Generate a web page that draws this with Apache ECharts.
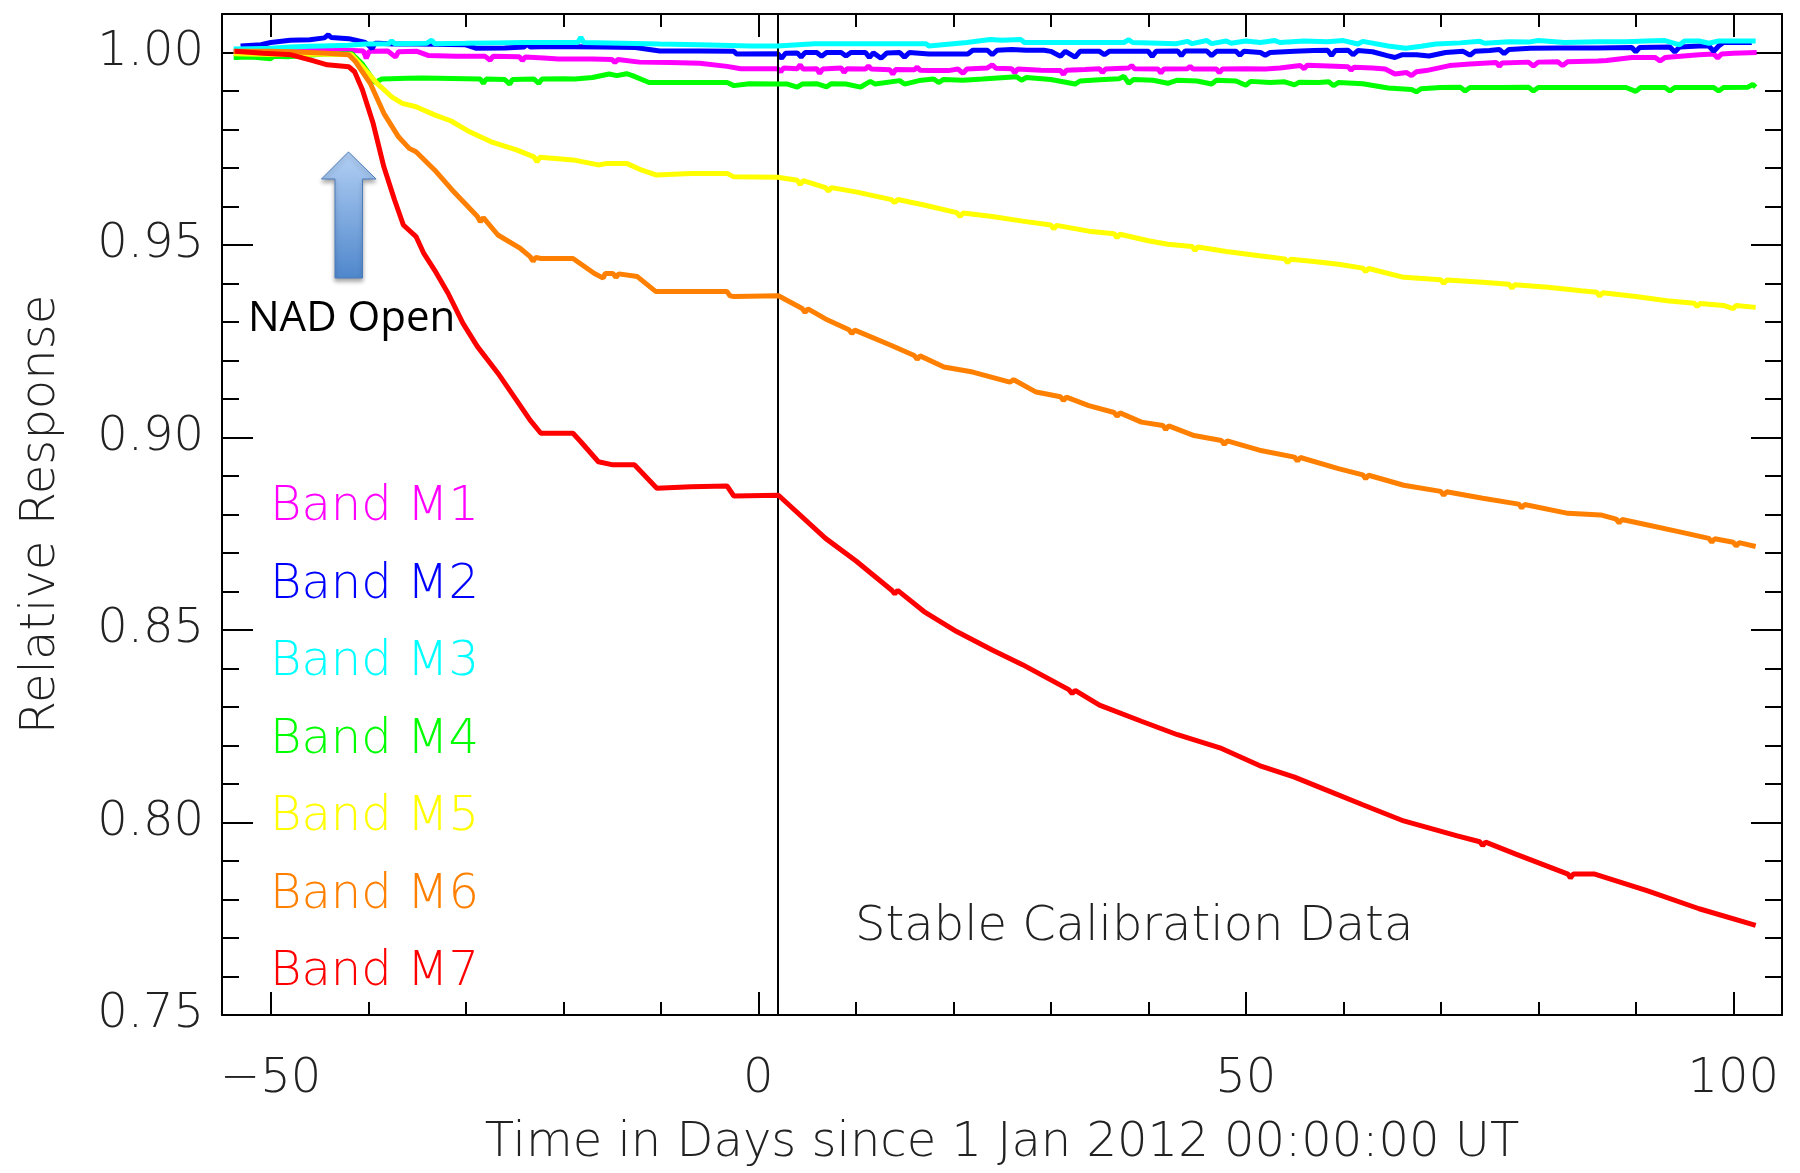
<!DOCTYPE html>
<html>
<head>
<meta charset="utf-8">
<script src="https://cdn.jsdelivr.net/npm/echarts@6/dist/echarts.min.js"></script>
<style>
html,body{margin:0;padding:0;background:#fff;}
#chart{width:1800px;height:1173px;}
</style>
</head>
<body>
<div id="chart"></div>
<script>
// ---------------- DATA ----------------
const bandNames = ['Band M1','Band M2','Band M3','Band M4','Band M5','Band M6','Band M7'];
const bandColors = ['#ff00ff','#0000ff','#00ffff','#00ff00','#ffff00','#ff8000','#ff0000'];

const xMajorTicks = [-50, 0, 50, 100];
const xMinorTicks = [-50,-40,-30,-20,-10,0,10,20,30,40,50,60,70,80,90,100];
const yMajorTicks = [0.75, 0.80, 0.85, 0.90, 0.95, 1.00];
const yMinorTicks = [0.76,0.77,0.78,0.79,0.81,0.82,0.83,0.84,0.86,0.87,0.88,0.89,0.91,0.92,0.93,0.94,0.96,0.97,0.98,0.99];
const xLine = 2; // boundary of stable calibration data

const m1 = [[-53.8,1.0003],[-51,1.0005],[-48,1.0008],[-46,1.0009],[-44,1.0008],[-42,1.0006],[-40.5,1.0004],[-40.2,0.9985],[-39.9,1.0003],[-38,1.0004],[-37.2,0.9988],[-36.9,1.0002],[-35,1.0003],[-33.8,0.9992],[-31,0.9990],[-28,0.9990],[-27.5,0.9980],[-27.2,0.9990],[-24.5,0.9989],[-24.2,0.9979],[-23.9,0.9988],[-22,0.9986],[-20.5,0.9983],[-17,0.9983],[-15,0.9982],[-14.7,0.9974],[-14.4,0.9982],[-12.2,0.9975],[-9,0.9974],[-6,0.9972],[-3.2,0.9964],[-1.8,0.9958],[2,0.9958],[2.3,0.9950],[2.6,0.9960],[4,0.9958],[4.3,0.9968],[4.6,0.9957],[6,0.9958],[6.3,0.9946],[6.6,0.9957],[8.5,0.9960],[8.8,0.9948],[9.1,0.9958],[11,0.9957],[11.3,0.9965],[11.6,0.9957],[13.5,0.9955],[13.8,0.9944],[14.1,0.9956],[16,0.9955],[16.3,0.9962],[16.6,0.9954],[17.5,0.9953],[19.5,0.9953],[20.5,0.9957],[21,0.9946],[21.4,0.9957],[23.5,0.9960],[24,0.9968],[24.4,0.9959],[26,0.9958],[26.3,0.9947],[26.6,0.9957],[29,0.9954],[31,0.9953],[31.3,0.9943],[31.6,0.9954],[33.5,0.9956],[35,0.9958],[35.3,0.9948],[35.6,0.9957],[38,0.9960],[38.3,0.9966],[38.6,0.9958],[41,0.9957],[41.3,0.9947],[41.6,0.9957],[44,0.9958],[44.3,0.9964],[44.6,0.9957],[47,0.9957],[47.3,0.9948],[47.6,0.9957],[50,0.9958],[52,0.9957],[53.5,0.9960],[55.6,0.9966],[56,0.9958],[56.3,0.9967],[58.5,0.9965],[60.5,0.9963],[60.8,0.9954],[61.1,0.9962],[63,0.9960],[64.3,0.9957],[65.3,0.9944],[66.5,0.9948],[67,0.9940],[67.5,0.9950],[68.5,0.9953],[70.9,0.9966],[73,0.9970],[75.7,0.9974],[76,0.9964],[76.3,0.9973],[79,0.9975],[79.5,0.9965],[80,0.9975],[82,0.9976],[82.5,0.9966],[83,0.9976],[86.1,0.9978],[87,0.9979],[89.6,0.9987],[92,0.9987],[92.5,0.9978],[93,0.9987],[96.5,0.9994],[98,0.9996],[98.4,0.9986],[98.8,0.9996],[100,0.9998],[102.4,1.0000]];

const m2 = [[-53.1,1.0017],[-51,1.0020],[-50,1.0026],[-48,1.0032],[-46,1.0033],[-44.5,1.0038],[-44.1,1.0046],[-43.8,1.0039],[-42,1.0036],[-41.3,1.0032],[-40.3,1.0026],[-39.6,1.0010],[-39.3,1.0024],[-38.9,1.0024],[-37.5,1.0022],[-35,1.0022],[-30,1.0020],[-28.9,1.0011],[-26,1.0012],[-24,1.0014],[-23.7,1.0024],[-23.4,1.0014],[-22.3,1.0015],[-19,1.0015],[-16,1.0014],[-12.6,1.0013],[-10.1,1.0004],[-6,1.0004],[-2.5,1.0003],[-2.2,0.9996],[2,0.9997],[2.4,0.9985],[2.8,0.9998],[4,0.9999],[4.4,0.9988],[4.8,1.0000],[6,1.0000],[6.5,0.9990],[7,1.0000],[8.5,1.0000],[9,0.9991],[9.5,1.0000],[11,1.0000],[11.4,0.9987],[11.8,0.9999],[12.6,0.9985],[13.2,0.9999],[14.5,1.0000],[15,0.9988],[15.5,1.0000],[17.5,0.9996],[21.5,0.9996],[22,1.0006],[23.5,1.0006],[24,0.9994],[24.5,1.0006],[26,1.0008],[27.5,1.0006],[29.3,1.0006],[30,1.0003],[31,0.9990],[31.5,1.0003],[32.5,0.9988],[33,1.0003],[35,1.0003],[35.5,0.9994],[36,1.0003],[38,1.0003],[40,1.0003],[40.4,0.9990],[40.8,1.0003],[43,1.0004],[43.4,0.9992],[43.8,1.0004],[46,1.0004],[46.5,0.9992],[47,1.0003],[49,1.0003],[49.4,0.9993],[49.8,1.0003],[51.5,1.0000],[52,0.9993],[52.5,1.0000],[55,1.0003],[57,1.0005],[58.4,1.0006],[58.8,0.9992],[59.2,1.0005],[60.5,1.0006],[61,0.9994],[61.5,1.0005],[63,1.0002],[64.5,0.9992],[65.3,0.9987],[66,0.9994],[67.5,0.9994],[68.8,0.9991],[70.5,1.0000],[72.3,1.0003],[73,0.9993],[73.5,1.0003],[75,1.0005],[76,1.0008],[76.5,0.9997],[77,1.0008],[79.2,1.0011],[82,1.0012],[86,1.0012],[89.6,1.0013],[90,1.0002],[90.4,1.0013],[93.5,1.0014],[94,1.0001],[94.5,1.0014],[96.5,1.0017],[97.5,1.0017],[98,1.0003],[98.5,1.0017],[99,1.0026],[101.9,1.0026]];

const m3 = [[-53.8,1.0009],[-52,1.0010],[-50,1.0011],[-48,1.0014],[-46,1.0016],[-44.8,1.0017],[-42,1.0019],[-40.3,1.0022],[-37.9,1.0023],[-37.6,1.0030],[-37.3,1.0023],[-34,1.0024],[-33.5,1.0032],[-33.2,1.0023],[-30,1.0024],[-27,1.0025],[-24,1.0026],[-18.5,1.0026],[-18.2,1.0040],[-17.9,1.0026],[-14,1.0024],[-10.1,1.0022],[-6,1.0020],[-0.8,1.0017],[2,1.0017],[5.8,1.0023],[8,1.0023],[12,1.0023],[17.2,1.0023],[17.5,1.0017],[21.4,1.0026],[23.8,1.0034],[25,1.0032],[26.9,1.0034],[27.3,1.0026],[32,1.0026],[36,1.0026],[37.5,1.0026],[38,1.0033],[38.4,1.0026],[42.9,1.0023],[44,1.0029],[44.5,1.0023],[46,1.0031],[46.5,1.0023],[48,1.0030],[48.5,1.0024],[50,1.0030],[51.5,1.0026],[53,1.0031],[53.5,1.0026],[56,1.0030],[58.4,1.0028],[60,1.0031],[61.5,1.0022],[62,1.0029],[64.6,1.0017],[66.4,1.0011],[68,1.0016],[69.5,1.0022],[72,1.0025],[74,1.0029],[74.5,1.0024],[77,1.0028],[79,1.0027],[80,1.0031],[82.7,1.0026],[86.1,1.0028],[89,1.0028],[91,1.0030],[93,1.0031],[94.5,1.0020],[95,1.0030],[96.5,1.0030],[97.5,1.0024],[98.5,1.0030],[102.3,1.0030]];

const m4 = [[-53.8,0.9987],[-52,0.9988],[-50,0.9984],[-49.7,0.9990],[-48.3,0.9989],[-46.5,0.9992],[-44.5,0.9996],[-41.7,0.9997],[-40.6,0.9970],[-39.3,0.9922],[-38.6,0.9931],[-36,0.9933],[-34.4,0.9934],[-30,0.9932],[-28.5,0.9931],[-28.2,0.9920],[-27.9,0.9931],[-26,0.9930],[-25.5,0.9918],[-25.2,0.9930],[-23,0.9931],[-22.5,0.9920],[-22.2,0.9931],[-20,0.9932],[-18.8,0.9931],[-17,0.9935],[-15.3,0.9944],[-14.5,0.9940],[-13.5,0.9945],[-12.9,0.9940],[-11.2,0.9922],[-8,0.9922],[-3.2,0.9922],[-2.5,0.9914],[-0.9,0.9919],[2,0.9918],[3,0.9918],[4,0.9910],[4.5,0.9918],[6,0.9919],[7,0.9911],[7.5,0.9919],[9,0.9918],[10.5,0.9910],[11,0.9918],[11.5,0.9925],[12,0.9918],[14.5,0.9927],[15,0.9918],[16.5,0.9927],[18,0.9931],[18.5,0.9922],[19,0.9930],[21,0.9928],[23,0.9931],[26.5,0.9937],[27,0.9928],[27.5,0.9935],[30,0.9930],[32.5,0.9918],[33,0.9926],[35,0.9929],[37,0.9932],[37.5,0.9938],[38,0.9920],[38.5,0.9930],[40.5,0.9928],[42,0.9920],[43,0.9928],[45,0.9926],[46.5,0.9918],[47,0.9928],[49,0.9926],[50,0.9915],[50.5,0.9925],[52.5,0.9922],[54,0.9924],[55,0.9916],[55.5,0.9923],[57.5,0.9922],[58.5,0.9924],[59,0.9914],[59.5,0.9922],[62,0.9919],[64.6,0.9908],[67,0.9904],[67.5,0.9898],[68,0.9906],[70,0.9909],[72,0.9910],[72.5,0.9900],[73,0.9909],[76,0.9909],[79,0.9910],[79.5,0.9900],[80,0.9909],[84,0.9909],[89,0.9909],[90,0.9899],[90.5,0.9909],[93,0.9909],[93.5,0.9900],[94,0.9909],[98,0.9909],[98.5,0.9900],[99,0.9909],[101.5,0.9910],[102,0.9917],[102.3,0.9910]];

const m5 = [[-53.8,0.9997],[-50,0.9995],[-47,0.9995],[-44.2,0.9996],[-41.7,0.9994],[-40.6,0.9963],[-39.1,0.9920],[-37.6,0.9885],[-36.5,0.9868],[-35.1,0.9859],[-33.2,0.9838],[-31.5,0.9822],[-29.6,0.9794],[-27.4,0.9768],[-24.8,0.9747],[-23.0,0.9729],[-22.7,0.9716],[-22.4,0.9728],[-19.0,0.9721],[-16.4,0.9708],[-15.5,0.9712],[-13.5,0.9712],[-12.0,0.9695],[-10.5,0.9682],[-6.9,0.9686],[-3.2,0.9686],[-2.5,0.9677],[2.0,0.9676],[4,0.9668],[4.3,0.9657],[4.6,0.9667],[6.9,0.9649],[7.2,0.9640],[7.5,0.9649],[10,0.9638],[13.66,0.9618],[14,0.9610],[14.3,0.9618],[17,0.9604],[20.35,0.9584],[20.7,0.9574],[21,0.9583],[24,0.9574],[27.1,0.9562],[30,0.9552],[30.3,0.9542],[30.6,0.9551],[33.9,0.9536],[36.5,0.9529],[36.8,0.9519],[37.1,0.9528],[40,0.9511],[42,0.9502],[44.5,0.9496],[44.8,0.9486],[45.1,0.9495],[48,0.9483],[51.4,0.9472],[54,0.9464],[54.3,0.9454],[54.6,0.9463],[57,0.9457],[59.5,0.9450],[62,0.9440],[62.3,0.9431],[62.6,0.9439],[66.2,0.9416],[70,0.9410],[70.3,0.9400],[70.6,0.9409],[74.3,0.9403],[77,0.9398],[77.3,0.9388],[77.6,0.9397],[81,0.9390],[84.4,0.9381],[86,0.9377],[86.3,0.9367],[86.6,0.9376],[90,0.9366],[93.2,0.9355],[96,0.9349],[96.3,0.9340],[96.6,0.9348],[99,0.9343],[100,0.9335],[100.3,0.9343],[102.3,0.9338]];

const m6 = [[-53.8,1.0003],[-50,1.0003],[-47.9,1.0002],[-44.2,0.9998],[-42.0,0.9994],[-41.3,0.9976],[-39.8,0.9920],[-38.4,0.9842],[-36.9,0.9781],[-35.8,0.9751],[-35.1,0.9742],[-33.2,0.9695],[-31.4,0.9643],[-28.8,0.9574],[-28.5,0.9560],[-28.2,0.9571],[-26.7,0.9526],[-24.4,0.9491],[-23.4,0.9470],[-23.1,0.9458],[-22.8,0.9468],[-22.3,0.9465],[-19.0,0.9465],[-16.8,0.9426],[-15.9,0.9414],[-15.7,0.9426],[-14.9,0.9426],[-14.6,0.9416],[-14.3,0.9425],[-12.4,0.9418],[-10.5,0.9379],[-3.2,0.9379],[-2.9,0.9368],[-2.5,0.9366],[2.07,0.9368],[4.5,0.9335],[4.8,0.9325],[5.1,0.9334],[6.9,0.9308],[9.3,0.9280],[9.6,0.9270],[9.9,0.9279],[13.66,0.9239],[16,0.9213],[16.3,0.9203],[16.6,0.9212],[19.05,0.9183],[22,0.9170],[25.8,0.9144],[26.2,0.9150],[28.5,0.9118],[31,0.9106],[31.3,0.9096],[31.6,0.9105],[33.9,0.9083],[36.5,0.9065],[36.8,0.9055],[37.1,0.9064],[39.3,0.9040],[41.5,0.9031],[41.8,0.9021],[42.1,0.9030],[44.7,0.9005],[47.5,0.8992],[47.8,0.8982],[48.1,0.8991],[51.4,0.8967],[55,0.8949],[55.3,0.8939],[55.6,0.8948],[59.5,0.8919],[62,0.8903],[62.3,0.8893],[62.6,0.8902],[66.2,0.8876],[70,0.8860],[70.3,0.8850],[70.6,0.8859],[74.3,0.8842],[78,0.8827],[78.3,0.8817],[78.6,0.8826],[83.05,0.8803],[86.4,0.8799],[88,0.8788],[88.3,0.8778],[88.6,0.8787],[91,0.8774],[94.5,0.8755],[97.5,0.8738],[97.8,0.8728],[98.1,0.8737],[100,0.8728],[100.3,0.8718],[100.6,0.8727],[102.3,0.8717]];

const m7 = [[-53.7,1.0003],[-50.8,0.9998],[-47.9,0.9994],[-45.7,0.9979],[-44.2,0.9968],[-42.0,0.9963],[-41.4,0.9950],[-40.6,0.9903],[-39.5,0.9816],[-38.4,0.9703],[-37.3,0.9617],[-36.4,0.9552],[-35.1,0.9522],[-34.3,0.9478],[-33.2,0.9435],[-31.8,0.9374],[-30.3,0.9297],[-28.8,0.9236],[-26.7,0.9167],[-24.8,0.9097],[-23.4,0.9045],[-22.3,0.9011],[-19.0,0.9011],[-18.2,0.8989],[-16.4,0.8937],[-14.9,0.8929],[-12.7,0.8929],[-10.4,0.8868],[-6.9,0.8872],[-3.2,0.8874],[-2.5,0.8848],[2.07,0.8850],[6.9,0.8738],[10,0.8680],[13.66,0.8604],[14,0.8594],[14.3,0.8603],[17,0.8548],[20.35,0.8496],[24,0.8448],[27.1,0.8410],[31.85,0.8345],[32.2,0.8335],[32.5,0.8343],[35,0.8305],[39.3,0.8263],[43,0.8228],[47.35,0.8194],[51.4,0.8148],[55,0.8118],[58.1,0.8086],[62,0.8046],[66.2,0.8004],[71.6,0.7966],[74,0.7950],[74.3,0.7940],[74.6,0.7949],[77.7,0.7918],[83.05,0.7866],[83.3,0.7856],[83.6,0.7866],[85.8,0.7866],[91.15,0.7823],[96.5,0.7776],[102.3,0.7733]];

const bandData = [m1, m2, m3, m4, m5, m6, m7];

// ---------------- CHART ----------------
const FONT = '"DejaVu Sans ExtraLight", "DejaVu Sans", sans-serif';
const FW = 200;
const INK = '#222';
const chart = echarts.init(document.getElementById('chart'), null, {renderer: 'canvas'});

const fmtX = v => (v < 0 ? '\u2212' + Math.abs(v) : String(v));
const fmtY = v => v.toFixed(2);

function xAx(pos, ticks, len, major) {
  return {
    type: 'value', min: -55, max: 105, position: pos, gridIndex: 0,
    axisLine: {show: major, onZero: false, lineStyle: {color: '#000', width: 2}},
    axisTick: {show: true, inside: true, length: len, customValues: ticks, lineStyle: {color: '#000', width: 2}},
    axisLabel: {show: false},
    splitLine: {show: false}
  };
}
function yAx(pos, ticks, len, major) {
  return {
    type: 'value', min: 0.75, max: 1.01, position: pos, gridIndex: 0,
    axisLine: {show: major, onZero: false, lineStyle: {color: '#000', width: 2}},
    axisTick: {show: true, inside: true, length: len, customValues: ticks, lineStyle: {color: '#000', width: 2}},
    axisLabel: {show: false},
    splitLine: {show: false}
  };
}

const xBottom = xAx('bottom', xMajorTicks, 23, true);
xBottom.axisLabel = {show: true, customValues: xMajorTicks, formatter: fmtX, fontSize: 48, fontFamily: FONT, fontWeight: FW, color: INK, margin: 41};
xBottom.name = 'Time in Days since 1 Jan 2012 00:00:00 UT';
xBottom.nameLocation = 'middle';
xBottom.nameGap = 105;
xBottom.nameTextStyle = {fontSize: 48, fontFamily: FONT, fontWeight: FW, color: INK};

const yLeft = yAx('left', yMajorTicks, 31, true);
yLeft.axisLabel = {show: true, customValues: yMajorTicks, formatter: fmtY, fontSize: 48, fontFamily: FONT, fontWeight: FW, color: INK, margin: 18};
yLeft.name = 'Relative Response';
yLeft.nameLocation = 'middle';
yLeft.nameGap = 156;
yLeft.nameTextStyle = {fontSize: 48, fontFamily: FONT, fontWeight: FW, color: INK};

const series = bandNames.map((name, i) => ({
  name: name, type: 'line', xAxisIndex: 0, yAxisIndex: 0,
  data: bandData[i], showSymbol: false, symbol: 'none',
  lineStyle: {color: bandColors[i], width: 5},
  itemStyle: {color: bandColors[i]},
  z: 3 + i
}));
series[0].markLine = {
  silent: true, symbol: 'none', label: {show: false},
  lineStyle: {color: '#000', width: 2, type: 'solid'},
  data: [{xAxis: xLine}],
  animation: false
};

chart.setOption({
  animation: false,
  backgroundColor: '#fff',
  grid: {left: 222, right: 18, top: 14, bottom: 155, containLabel: false},
  xAxis: [xBottom, xAx('bottom', xMinorTicks, 13, false), xAx('top', xMajorTicks, 23, true), xAx('top', xMinorTicks, 13, false)],
  yAxis: [yLeft, yAx('left', yMinorTicks, 17, false), yAx('right', yMajorTicks, 31, true), yAx('right', yMinorTicks, 17, false)],
  legend: {
    orient: 'vertical', left: 260, top: 479, itemGap: 29.5,
    itemWidth: 0, itemHeight: 0, selectedMode: false,
    textStyle: {fontSize: 48, fontFamily: FONT, fontWeight: FW, lineHeight: 46},
    data: bandNames.map((n, i) => ({name: n, icon: 'rect', itemStyle: {opacity: 0}, lineStyle: {opacity: 0}, textStyle: {color: bandColors[i]}}))
  },
  series: series,
  graphic: [
    {
      type: 'polygon', z: 100,
      shape: {points: [[348.5,152],[376,179],[362.5,179],[362.5,278],[335,278],[335,179],[321.5,179]]},
      style: {
        fill: new echarts.graphic.LinearGradient(0, 0, 0, 1, [{offset: 0, color: '#b3d0f4'}, {offset: 1, color: '#4f87cc'}]),
        stroke: '#4b7cbd', lineWidth: 1,
        shadowBlur: 4, shadowColor: 'rgba(0,0,0,0.35)', shadowOffsetY: 3
      }
    },
    {
      type: 'text', z: 100, left: 248, top: 298,
      style: {text: 'NAD Open', fontSize: 42, fontFamily: '"Open Sans", "Noto Sans", sans-serif', fill: '#000'}
    },
    {
      type: 'text', z: 100, left: 855, top: 904,
      style: {text: 'Stable Calibration Data', fontSize: 48, fontFamily: FONT, fontWeight: FW, fill: INK}
    }
  ]
});
</script>
</body>
</html>
